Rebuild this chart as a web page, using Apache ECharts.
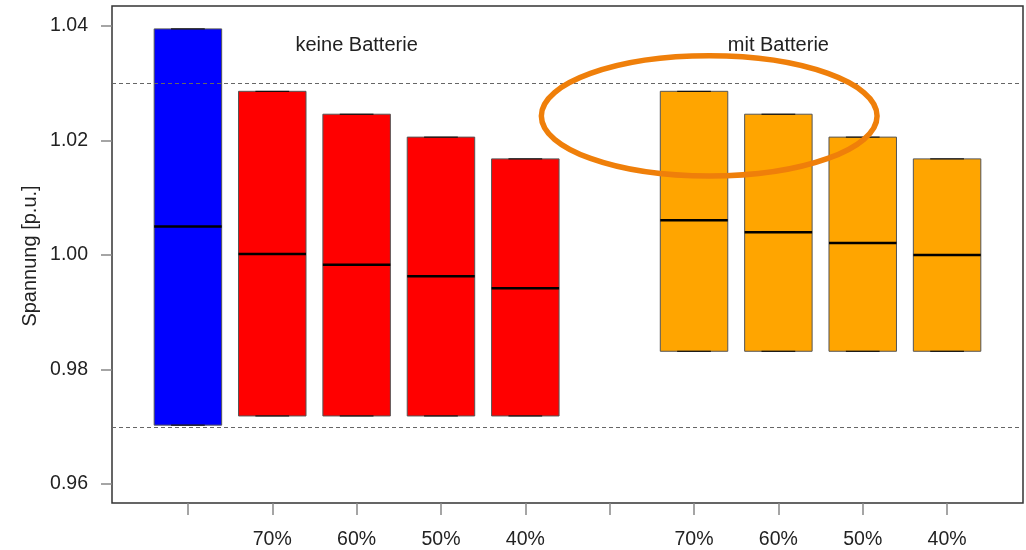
<!DOCTYPE html>
<html>
<head>
<meta charset="utf-8">
<script src="https://cdn.jsdelivr.net/npm/echarts@6/dist/echarts.min.js"></script>
<style>
  html, body { margin: 0; padding: 0; background: #fff; }
  #chart { width: 1026px; height: 550px; }
</style>
</head>
<body>
<div id="chart"></div>
<script>
// box positions on the x axis (slot 6 is an empty separator)
const positions = [1, 2, 3, 4, 5, 7, 8, 9, 10];
const tickLabels = ["", "70%", "60%", "50%", "40%", "", "70%", "60%", "50%", "40%"];
const lower = [0.9703, 0.9719, 0.9719, 0.9719, 0.9719, 0.9832, 0.9832, 0.9832, 0.9832];
const medians = [1.0050, 1.0002, 0.9983, 0.9963, 0.9942, 1.0061, 1.0040, 1.0021, 1.0000];
const upper = [1.0395, 1.0286, 1.0246, 1.0206, 1.0168, 1.0286, 1.0246, 1.0206, 1.0168];
const boxColors = ["#0000FF", "#FF0000", "#FF0000", "#FF0000", "#FF0000",
                   "#FFA500", "#FFA500", "#FFA500", "#FFA500"];
const yTicks = [0.96, 0.98, 1.00, 1.02, 1.04];
const limits = [1.03, 0.97];
const groupTitles = [
  { text: "keine Batterie", x: 3, y: 1.0366 },
  { text: "mit Batterie", x: 8, y: 1.0366 }
];

const chart = echarts.init(document.getElementById("chart"), null, { renderer: "canvas" });

const boxData = positions.map((p, i) => [p, lower[i], medians[i], upper[i]]);
const font = "Liberation Sans, Arial, sans-serif";

chart.setOption({
  animation: false,
  grid: {
    left: 112, right: 3, top: 6, bottom: 46,
    show: true, borderColor: "#333", borderWidth: 1.5
  },
  xAxis: {
    type: "value",
    min: 0.1,
    max: 10.9,
    splitLine: { show: false },
    axisLine: { show: false },
    axisTick: {
      show: true, length: 12, customValues: [1, 2, 3, 4, 5, 6, 7, 8, 9, 10],
      lineStyle: { color: "#888", width: 1.5 }
    },
    axisLabel: {
      customValues: [1, 2, 3, 4, 5, 6, 7, 8, 9, 10],
      formatter: v => tickLabels[Math.round(v) - 1],
      margin: 27, fontSize: 19.5, color: "#222", fontFamily: font
    }
  },
  yAxis: {
    type: "value",
    min: 0.9567,
    max: 1.0435,
    splitLine: { show: false },
    axisLine: { show: false },
    axisTick: {
      show: true, length: 11, customValues: yTicks,
      lineStyle: { color: "#888", width: 1.5 }
    },
    axisLabel: {
      customValues: yTicks,
      formatter: v => v.toFixed(2),
      margin: 24, fontSize: 19.5, color: "#222", fontFamily: font
    }
  },
  series: [{
    type: "custom",
    data: boxData,
    renderItem: function (params, api) {
      const x = api.value(0);
      const lo = api.value(1), med = api.value(2), hi = api.value(3);
      const tl = api.coord([x - 0.4, hi]);
      const br = api.coord([x + 0.4, lo]);
      const m1 = api.coord([x - 0.4, med]);
      const m2 = api.coord([x + 0.4, med]);
      const s1 = api.coord([x - 0.2, hi])[0];
      const s2 = api.coord([x + 0.2, hi])[0];
      return {
        type: "group",
        children: [
          {
            type: "rect",
            shape: { x: tl[0], y: tl[1], width: br[0] - tl[0], height: br[1] - tl[1] },
            style: { fill: boxColors[params.dataIndex], stroke: "#555", lineWidth: 1 }
          },
          {
            type: "line",
            shape: { x1: m1[0], y1: m1[1], x2: m2[0], y2: m2[1] },
            style: { stroke: "#000", lineWidth: 2.5 }
          },
          {
            type: "line",
            shape: { x1: s1, y1: tl[1], x2: s2, y2: tl[1] },
            style: { stroke: "#000", lineWidth: 1 }
          },
          {
            type: "line",
            shape: { x1: s1, y1: br[1], x2: s2, y2: br[1] },
            style: { stroke: "#000", lineWidth: 1 }
          }
        ]
      };
    },
    markLine: {
      silent: true,
      symbol: "none",
      label: { show: false },
      lineStyle: { color: "#666", type: [4, 3], width: 1 },
      data: limits.map(v => ({ yAxis: v }))
    }
  }]
});

// overlay: group titles, ellipse annotation, y axis title
const toPx = (x, y) => chart.convertToPixel({ gridIndex: 0 }, [x, y]);
const graphics = groupTitles.map(t => {
  const p = toPx(t.x, t.y);
  return {
    type: "text", x: p[0], y: p[1],
    style: { text: t.text, fontSize: 20, fontFamily: font, fill: "#222", align: "center", verticalAlign: "middle" }
  };
});
const c = toPx(7.18, 1.0243);
const edge = toPx(7.18 + 1.99, 1.0243 + 0.0105);
graphics.push({
  type: "ellipse",
  shape: { cx: c[0], cy: c[1], rx: edge[0] - c[0], ry: c[1] - edge[1] },
  style: { fill: null, stroke: "#EF7F0A", lineWidth: 5.5 },
  z: 100
});
graphics.push({
  type: "text", x: 30, y: 256, rotation: Math.PI / 2,
  style: { text: "Spannung [p.u.]", fontSize: 20, fontFamily: font, fill: "#222", align: "center", verticalAlign: "middle" }
});
chart.setOption({ graphic: graphics });
</script>
</body>
</html>
